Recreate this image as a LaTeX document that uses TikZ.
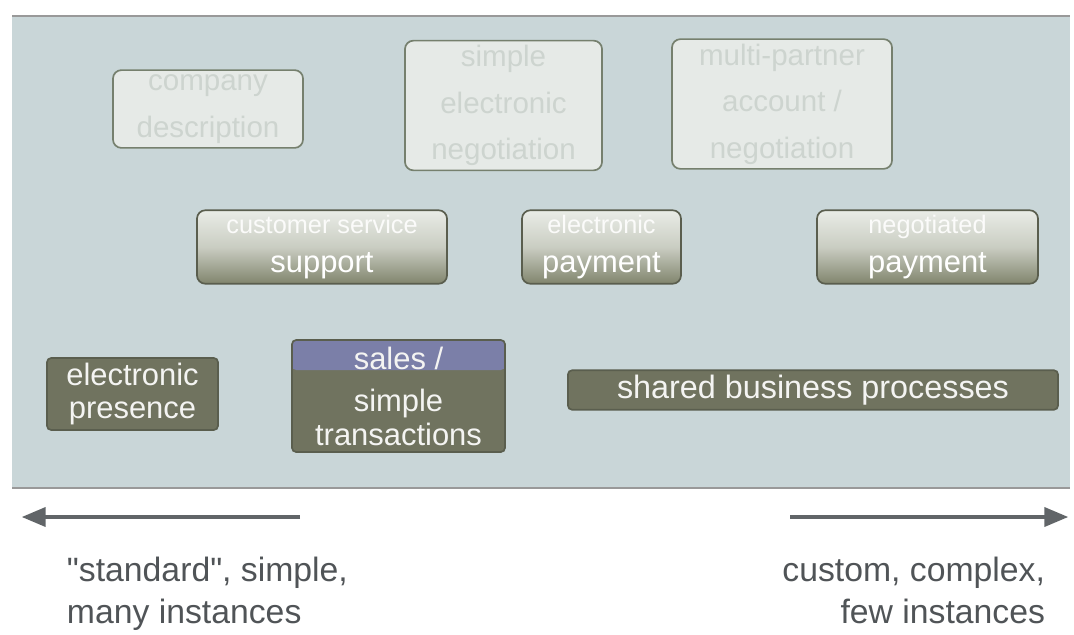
\documentclass[tikz,border=0pt]{standalone}
\usepackage{fontspec}
\setmainfont{Liberation Sans}
\newfontfamily\plainfont{Liberation Sans}
\usetikzlibrary{shapes.geometric, arrows}
\definecolor{panelgray}{HTML}{C9D6D8}
\definecolor{lightfill}{HTML}{E6EAE7}
\definecolor{lightedge}{HTML}{76806E}
\definecolor{fainttext}{HTML}{CDD4CF}
\definecolor{olive}{HTML}{70735F}
\definecolor{oliveedge}{HTML}{5A5E4E}
\definecolor{midtop}{HTML}{E9ECE7}
\definecolor{midbottom}{HTML}{80856D}
\definecolor{salesband}{HTML}{7B7FA8}
\definecolor{labeltext}{HTML}{505457}
\newcommand{\fadeline}[1]{{\fontsize{18}{22}\selectfont\color{white!80!midtop}#1}}
\tikzstyle{topbox} = [rectangle, rounded corners=6pt, text centered, align=center, draw=lightedge, line width=1.2pt, fill=lightfill, text=fainttext, font=\fontsize{21}{33}\selectfont]
\tikzstyle{midbox} = [rectangle, rounded corners=6pt, minimum height=1.8cm, text centered, align=center, draw=oliveedge, line width=1.2pt, top color=midtop, bottom color=midbottom, middle color=midtop!70!midbottom, text=white, font=\fontsize{22}{28}\selectfont]
\tikzstyle{darkbox} = [rectangle, rounded corners=3pt, text centered, align=center, draw=oliveedge, line width=1.2pt, fill=olive, text=white!92!olive, font=\fontsize{22}{24}\selectfont]
\tikzstyle{caption} = [align=left, text=labeltext, font=\plainfont\fontsize{24}{30}\selectfont]
\tikzstyle{arrow} = [line width=3pt, draw=labeltext!90, -triangle 45]

\begin{document}
\begin{tikzpicture}[x=0.025cm, y=-0.025cm]

    \useasboundingbox (0,0) rectangle (1074,634);
    \fill[panelgray] (12,16) rectangle (1070,488);
    \draw[gray!80, line width=1pt] (12,16) -- (1070,16);
    \draw[gray!80, line width=1pt] (12,488) -- (1070,488);

    % upper level
    \node (company) [topbox, minimum width=4.75cm, minimum height=1.875cm] at (208,109) {company\\description};
    \node (simpleneg) [topbox, minimum width=4.925cm, minimum height=2.875cm] at (503.5,105.5) {simple\\electronic\\negotiation};
    \node (complexneg) [topbox, minimum width=5.5cm, minimum height=2.9cm] at (782,104) {multi-partner\\account /\\negotiation};

    % middle level
    \node (support) [midbox, minimum width=6.25cm] at (322,247) {\fadeline{customer service}\\support};
    \node (epay) [midbox, minimum width=3.975cm] at (601.5,247) {\fadeline{electronic}\\payment};
    \node (negpay) [midbox, minimum width=5.525cm] at (927.5,247) {\fadeline{negotiated}\\payment};

    % lower level
    \node (presence) [darkbox, minimum width=4.275cm, minimum height=1.8cm] at (132.5,394) {electronic\\presence};
    \node (sales) [darkbox, minimum width=5.325cm, minimum height=2.8cm, inner sep=2pt,
        path picture={\fill[salesband] (path picture bounding box.north west) rectangle ([yshift=-0.75cm]path picture bounding box.north east);}] at (398.5,396) {sales /\\[6pt]simple\\transactions};
    \node (shared) [darkbox, minimum width=12.25cm, minimum height=0.85cm, font=\fontsize{23}{24}\selectfont] at (813,390) {shared business processes};

    % scale underneath
    \coordinate (leftfrom) at (300,517);
    \coordinate (leftto) at (22,517);
    \coordinate (rightfrom) at (790,517);
    \coordinate (rightto) at (1068,517);
    \draw [arrow] (leftfrom) -- (leftto);
    \draw [arrow] (rightfrom) -- (rightto);

    \node (standard) [caption, anchor=north west] at (62,552) {"standard", simple,\\many instances};
    \node (custom) [caption, anchor=north east, align=right] at (1050,552) {custom, complex,\\few instances};

\end{tikzpicture}
\end{document}
